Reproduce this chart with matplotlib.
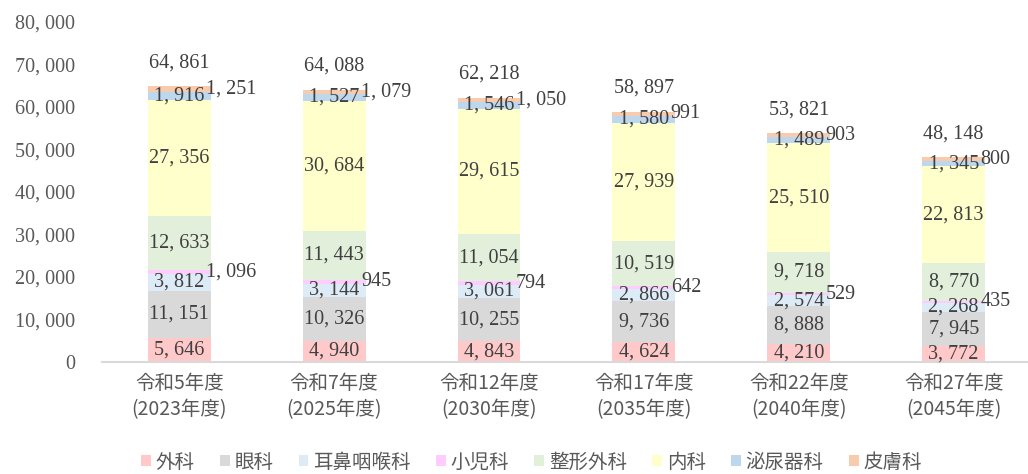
import matplotlib
matplotlib.use("Agg")
import matplotlib.pyplot as plt
import numpy as np

categories = ["令和5年度\n(2023年度)", "令和7年度\n(2025年度)", "令和12年度\n(2030年度)",
              "令和17年度\n(2035年度)", "令和22年度\n(2040年度)", "令和27年度\n(2045年度)"]
series_names = ["外科", "眼科", "耳鼻咽喉科", "小児科", "整形外科", "内科", "泌尿器科", "皮膚科"]
geka = [5646, 4940, 4843, 4624, 4210, 3772]
ganka = [11151, 10326, 10255, 9736, 8888, 7945]
jibika = [3812, 3144, 3061, 2866, 2574, 2268]
shonika = [1096, 945, 794, 642, 529, 435]
seikei = [12633, 11443, 11054, 10519, 9718, 8770]
naika = [27356, 30684, 29615, 27939, 25510, 22813]
hinyoki = [1916, 1527, 1546, 1580, 1489, 1345]
hifuka = [1251, 1079, 1050, 991, 903, 800]
totals = [64861, 64088, 62218, 58897, 53821, 48148]
yticks = [0, 10000, 20000, 30000, 40000, 50000, 60000, 70000, 80000]

series = [geka, ganka, jibika, shonika, seikei, naika, hinyoki, hifuka]
colors = ["#FFC9C9", "#D9D9D9", "#DDEBF7", "#FFCCFF", "#E2EFDA", "#FFFFCC", "#BDD7EE", "#F8CBAD"]
outside = {"小児科", "皮膚科"}

def fmt(v):
    return f"{v:,}".replace(",", ", ")

fig = plt.figure(figsize=(10.28, 4.74), dpi=100)
ax = fig.add_axes([0.099, 0.2363, 0.904, 0.7173])

x = np.arange(len(categories))
width = 0.406
bottom = np.zeros(len(categories))
num_font = dict(family="Liberation Serif", fontsize=14.5, color="#404040")
for name, vals, col in zip(series_names, series, colors):
    vals = np.array(vals, dtype=float)
    bars = ax.bar(x, vals, width, bottom=bottom, color=col, label=name)
    for xi, b, v in zip(x, bottom, vals):
        yc = b + v / 2
        if name in outside:
            ax.text(xi + width / 2 - 0.03, yc, fmt(int(v)), ha="left", va="center", **num_font)
        else:
            ax.text(xi, yc, fmt(int(v)), ha="center", va="center", **num_font)
    bottom += vals

for xi, t in zip(x, totals):
    ax.annotate(fmt(t), (xi, t), xytext=(0, 17), textcoords="offset points",
                ha="center", va="center", **num_font)

ax.set_xlim(-0.5, len(categories) - 0.5)
ax.set_ylim(0, 80000)
ax.set_yticks(yticks)
ax.set_yticklabels([fmt(v) for v in yticks], family="Liberation Serif", fontsize=14.5, color="#595959")
ax.tick_params(axis="y", length=0, pad=19)
ax.set_xticks(x)
ax.set_xticklabels(categories, family=["Noto Sans CJK JP"], fontsize=14, color="#595959", linespacing=1.3)
ax.tick_params(axis="x", length=0, pad=8)
for s in ["top", "right", "left"]:
    ax.spines[s].set_visible(False)
ax.spines["bottom"].set_color("#D9D9D9")
ax.spines["bottom"].set_linewidth(1.5)

handles, labels = ax.get_legend_handles_labels()
leg = fig.legend(handles, labels, loc="center", bbox_to_anchor=(0.517, 0.025), ncol=8,
                 frameon=False, prop={"family": "Noto Sans CJK JP", "size": 14},
                 handlelength=0.5, handleheight=0.5, handletextpad=0.25, columnspacing=1.3)
for t in leg.get_texts():
    t.set_color("#595959")

fig.savefig("out.png", dpi=100)
